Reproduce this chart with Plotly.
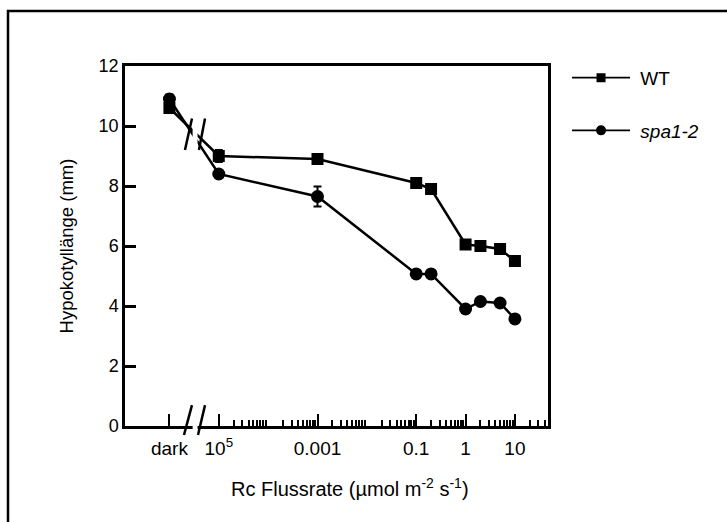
import plotly.graph_objects as go

# ---- data ----
x_flux = [1e-6, 1e-5, 1e-3, 0.1, 0.2, 1, 2, 5, 10]   # 1e-6 stands for "dark"
wt = [10.6, 9.0, 8.9, 8.1, 7.9, 6.05, 6.0, 5.9, 5.5]
wt_se = [0.15, 0.2, 0.1, 0.15, 0.1, 0.1, 0.1, 0.1, 0.1]
spa = [10.9, 8.4, 7.65, 5.07, 5.07, 3.9, 4.15, 4.1, 3.57]
spa_se = [0.15, 0.1, 0.33, 0.1, 0.1, 0.1, 0.1, 0.1, 0.1]

label_ticks = [1e-6, 1e-5, 1e-3, 1e-1, 1, 10]
label_text = ["dark", "10<sup>5</sup>", "0.001", "0.1", "1", "10"]
unlabeled_major = [1e-4, 1e-2]
minor_ticks = [k * 10.0 ** n for n in range(-5, 2) for k in range(2, 10)] + [20, 30, 40]
y_ticks = [0, 2, 4, 6, 8, 10, 12]

FONT = "Liberation Sans, Arial, sans-serif"
NB = "\u00a0"

fig = go.Figure()
fig.add_trace(go.Scatter(
    x=x_flux, y=wt, name="WT", mode="lines+markers",
    line=dict(color="black", width=2.5),
    marker=dict(symbol="square", size=12, color="black"),
    error_y=dict(type="data", array=wt_se, color="black", thickness=2, width=4),
    showlegend=False, cliponaxis=False,
))
fig.add_trace(go.Scatter(
    x=x_flux, y=spa, name="spa1-2", mode="lines+markers",
    line=dict(color="black", width=2.5),
    marker=dict(symbol="circle", size=13, color="black"),
    error_y=dict(type="data", array=spa_se, color="black", thickness=2, width=4),
    showlegend=False, cliponaxis=False,
))
# legend entries (thinner line, smaller symbol as in the reference legend)
fig.add_trace(go.Scatter(
    x=[None], y=[None], name=NB + "WT", mode="lines+markers",
    line=dict(color="black", width=1.6),
    marker=dict(symbol="square", size=9, color="black"),
    legendgroup="a",
))
fig.add_trace(go.Scatter(
    x=[None], y=[None], name=NB + "<i>spa1-2</i>", mode="lines+markers",
    line=dict(color="black", width=1.6),
    marker=dict(symbol="circle", size=10, color="black"),
    legendgroup="b",
))

shapes = []
# outer frame
shapes.append(dict(type="rect", xref="paper", yref="paper", x0=-0.2766, x1=2, y0=-1, y1=1.1528,
                   line=dict(color="black", width=2.5), layer="above"))
# axis break: white gap over axis line and data lines
shapes.append(dict(type="rect", xref="x", yref="paper", x0=10 ** -5.53, x1=10 ** -5.43,
                   y0=-0.012, y1=0.012, fillcolor="white", line=dict(width=0), layer="above"))
shapes.append(dict(type="rect", xref="x", yref="y", x0=10 ** -5.53, x1=10 ** -5.43,
                   y0=9.0, y1=10.5, fillcolor="white", line=dict(width=0), layer="above"))
# slashes on axis
for a, b in [(-5.705, -5.543), (-5.421, -5.279)]:
    shapes.append(dict(type="line", xref="x", yref="paper", x0=10 ** a, x1=10 ** b,
                       y0=-0.025, y1=0.058, line=dict(color="black", width=2.5), layer="above"))
# slashes on data lines
for a, b in [(-5.685, -5.543), (-5.402, -5.279)]:
    shapes.append(dict(type="line", xref="x", yref="y", x0=10 ** a, x1=10 ** b,
                       y0=9.2, y1=10.25, line=dict(color="black", width=2.5), layer="above"))

fig.update_layout(
    width=727, height=522,
    margin=dict(l=125, r=179, t=66, b=96),
    paper_bgcolor="white", plot_bgcolor="white",
    font=dict(family=FONT, color="black", size=19),
    shapes=shapes,
    showlegend=True,
    legend=dict(x=1.045, y=1.02, xanchor="left", yanchor="top",
                font=dict(family=FONT, size=19), itemwidth=58,
                tracegroupgap=25, bgcolor="rgba(0,0,0,0)", itemsizing="trace"),
    annotations=[dict(
        text="Rc Flussrate (µmol m<sup>-2</sup> s<sup>-1</sup>)",
        xref="paper", yref="paper", x=0.532, y=-0.172,
        xanchor="center", yanchor="middle", showarrow=False,
        font=dict(family=FONT, size=20),
    )],
    xaxis=dict(
        type="log", range=[-6.9, 1.67],
        tickmode="array", tickvals=label_ticks, ticktext=label_text,
        ticks="inside", ticklen=12, tickwidth=2, tickcolor="black",
        ticklabelstandoff=3,
        minor=dict(tickmode="array", tickvals=minor_ticks, ticks="inside",
                   ticklen=6, tickwidth=2, tickcolor="black", showgrid=False),
        showline=True, linewidth=2.5, linecolor="black", mirror=True,
        showgrid=False, zeroline=False,
        tickfont=dict(size=19),
    ),
    xaxis2=dict(
        type="log", range=[-6.9, 1.67], overlaying="x", side="bottom",
        tickmode="array", tickvals=unlabeled_major, showticklabels=False,
        ticks="inside", ticklen=12, tickwidth=2, tickcolor="black",
        showline=False, showgrid=False, zeroline=False,
    ),
    yaxis=dict(
        range=[0, 12], tickmode="array", tickvals=y_ticks,
        ticks="inside", ticklen=11, tickwidth=2.5, tickcolor="black",
        showline=True, linewidth=2.5, linecolor="black", mirror=True,
        showgrid=False, zeroline=False,
        tickfont=dict(size=18),
        title=dict(text="Hypokotyllänge (mm)", font=dict(size=18.5), standoff=21),
    ),
)

fig.write_html("out.html")
